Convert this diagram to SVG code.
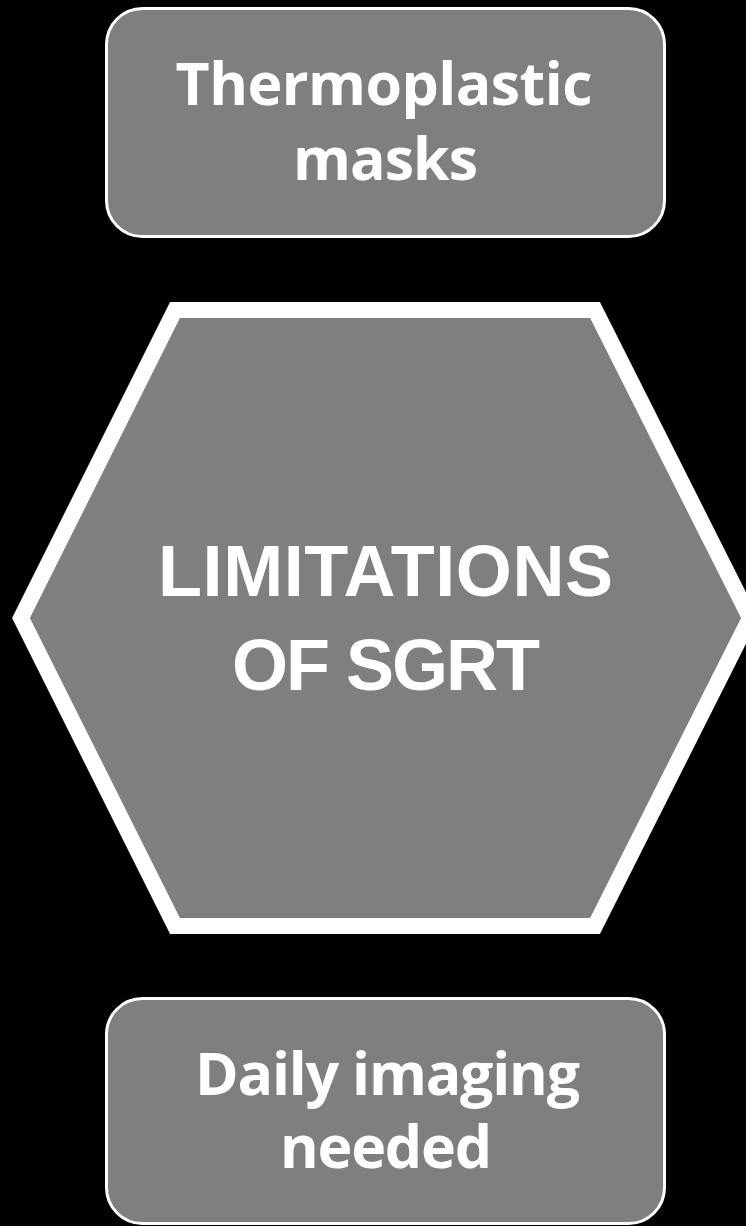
<svg xmlns="http://www.w3.org/2000/svg" width="746" height="1226" viewBox="0 0 746 1226">
<style>
.box{fill:#7f7f7f;stroke:#ffffff;stroke-width:3}
.hex{fill:#7f7f7f;stroke:#ffffff;stroke-width:16;stroke-linejoin:miter}
.t{fill:#ffffff;font-weight:bold;text-anchor:middle}
.s{font-size:59px;font-family:"Open Sans","Liberation Sans",Arial,sans-serif}
.l{font-size:72px;font-family:"Liberation Sans",Arial,sans-serif}
</style>
<rect width="746" height="1226" fill="#000000"/>
<g id="node-top">
<rect class="box" x="106.5" y="8.5" width="558" height="228" rx="36" ry="36"/>
<text class="t s" x="384" y="105" textLength="417" lengthAdjust="spacing">Thermoplastic</text>
<text class="t s" x="385.5" y="180" textLength="185" lengthAdjust="spacing">masks</text>
</g>
<g id="node-center">
<polygon class="hex" points="175,310 595,310 750,618 595,926 175,926 21,618"/>
<text class="t l" x="385.5" y="596" textLength="455" lengthAdjust="spacing">LIMITATIONS</text>
<text class="t l" x="386" y="690" textLength="308" lengthAdjust="spacing">OF SGRT</text>
</g>
<g id="node-bottom">
<rect class="box" x="106.5" y="998.5" width="558" height="225" rx="36" ry="36"/>
<text class="t s" x="387.5" y="1095" textLength="385" lengthAdjust="spacing">Daily imaging</text>
<text class="t s" x="386" y="1168" textLength="212" lengthAdjust="spacing">needed</text>
</g>
<g id="connectors"></g>
</svg>
